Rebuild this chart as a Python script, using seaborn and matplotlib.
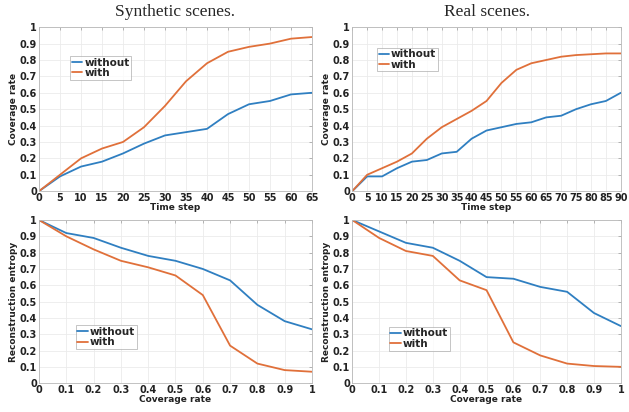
import numpy as np
import pandas as pd
import seaborn as sns
import matplotlib
matplotlib.use("Agg")
import matplotlib.pyplot as plt

# Coverage over time, synthetic scenes
syn_steps = [0, 5, 10, 15, 20, 25, 30, 35, 40, 45, 50, 55, 60, 65]
syn_cov_without = [0, 0.09, 0.15, 0.18, 0.23, 0.29, 0.34, 0.36, 0.38, 0.47, 0.53, 0.55, 0.59, 0.60]
syn_cov_with = [0, 0.10, 0.20, 0.26, 0.30, 0.39, 0.52, 0.67, 0.78, 0.85, 0.88, 0.90, 0.93, 0.94]

# Coverage over time, real scenes
real_steps = [0, 5, 10, 15, 20, 25, 30, 35, 40, 45, 50, 55, 60, 65, 70, 75, 80, 85, 90]
real_cov_without = [0, 0.09, 0.09, 0.14, 0.18, 0.19, 0.23, 0.24, 0.32, 0.37, 0.39, 0.41, 0.42,
                    0.45, 0.46, 0.50, 0.53, 0.55, 0.60]
real_cov_with = [0, 0.10, 0.14, 0.18, 0.23, 0.32, 0.39, 0.44, 0.49, 0.55, 0.66, 0.74, 0.78,
                 0.80, 0.82, 0.83, 0.835, 0.84, 0.84]

# Reconstruction entropy against coverage
cov_levels = [0, 0.1, 0.2, 0.3, 0.4, 0.5, 0.6, 0.7, 0.8, 0.9, 1.0]
syn_ent_without = [1, 0.92, 0.89, 0.83, 0.78, 0.75, 0.70, 0.63, 0.48, 0.38, 0.33]
syn_ent_with = [1, 0.90, 0.82, 0.75, 0.71, 0.66, 0.54, 0.23, 0.12, 0.08, 0.07]
real_ent_without = [1, 0.93, 0.86, 0.83, 0.75, 0.65, 0.64, 0.59, 0.56, 0.43, 0.35]
real_ent_with = [1, 0.89, 0.81, 0.78, 0.63, 0.57, 0.25, 0.17, 0.12, 0.105, 0.10]

series_names = ["without", "with"]
palette = {"without": "#2f7fc1", "with": "#e0703a"}

sns.set_theme(style="whitegrid")
plt.rcParams.update({
    "font.family": ["DejaVu Sans"],
    "font.weight": "bold",
    "axes.edgecolor": "#b8b8b8",
    "axes.linewidth": 0.6,
    "grid.color": "#ebebeb",
    "grid.linewidth": 0.6,
    "xtick.direction": "in",
    "ytick.direction": "in",
})


def frame(x, a, b, xname, yname):
    return pd.DataFrame({
        xname: list(x) + list(x),
        yname: list(a) + list(b),
        "method": [series_names[0]] * len(x) + [series_names[1]] * len(x),
    })


fig = plt.figure(figsize=(6.29, 4.12), dpi=100)
boxes = {
    "tl": [0.062, 0.536, 0.434, 0.398],
    "tr": [0.560, 0.536, 0.427, 0.398],
    "bl": [0.062, 0.070, 0.434, 0.396],
    "br": [0.560, 0.070, 0.427, 0.396],
}

panels = [
    ("tl", frame(syn_steps, syn_cov_without, syn_cov_with, "Time step", "Coverage rate"),
     "Time step", "Coverage rate", (0, 65), np.arange(0, 66, 5), (0.114, 0.68)),
    ("tr", frame(real_steps, real_cov_without, real_cov_with, "Time step", "Coverage rate"),
     "Time step", "Coverage rate", (0, 90), np.arange(0, 91, 5), (0.092, 0.73)),
    ("bl", frame(cov_levels, syn_ent_without, syn_ent_with, "Coverage rate", "Reconstruction entropy"),
     "Coverage rate", "Reconstruction entropy", (0, 1), cov_levels, (0.135, 0.21)),
    ("br", frame(cov_levels, real_ent_without, real_ent_with, "Coverage rate", "Reconstruction entropy"),
     "Coverage rate", "Reconstruction entropy", (0, 1), cov_levels, (0.136, 0.20)),
]

axes = {}
for key, df, xl, yl, xlim, xticks, legpos in panels:
    ax = fig.add_axes(boxes[key])
    axes[key] = ax
    sns.lineplot(data=df, x=xl, y=yl, hue="method", palette=palette, ax=ax,
                 linewidth=1.3, legend=True)
    ax.set_xlim(*xlim)
    ax.set_ylim(0, 1)
    ax.set_xticks(xticks)
    ax.set_xticklabels([f"{v:g}" for v in xticks])
    yt = np.round(np.arange(0, 1.01, 0.1), 1)
    ax.set_yticks(yt)
    ax.set_yticklabels([f"{v:g}" for v in yt])
    ax.tick_params(axis="both", labelsize=7, pad=1.5, length=2, width=0.5,
                   colors="#9a9a9a", labelcolor="#222222", top=True, right=True)
    for lbl in ax.get_xticklabels() + ax.get_yticklabels():
        lbl.set_fontweight("bold")
    ax.set_xlabel(xl, fontsize=6.5, fontweight="bold", labelpad=0, color="#222222")
    ax.set_ylabel(yl, fontsize=6.5, fontweight="bold", labelpad=1, color="#222222")
    for sp in ax.spines.values():
        sp.set_visible(True)
        sp.set_color("#b8b8b8")
    leg = ax.legend(loc="lower left", bbox_to_anchor=legpos,
                    prop={"weight": "bold", "size": 7.5}, frameon=True, fancybox=False,
                    handlelength=1.0, handletextpad=0.2, borderpad=0.15,
                    labelspacing=0.05, borderaxespad=0)
    leg.get_frame().set_edgecolor("#aaaaaa")
    leg.get_frame().set_linewidth(0.6)

fig.text(0.279, 0.972, "Synthetic scenes.", ha="center", va="center",
         fontsize=12.5, family="Liberation Serif", fontweight="normal")
fig.text(0.774, 0.972, "Real scenes.", ha="center", va="center",
         fontsize=12.5, family="Liberation Serif", fontweight="normal")

fig.savefig("out.png", dpi=100)
